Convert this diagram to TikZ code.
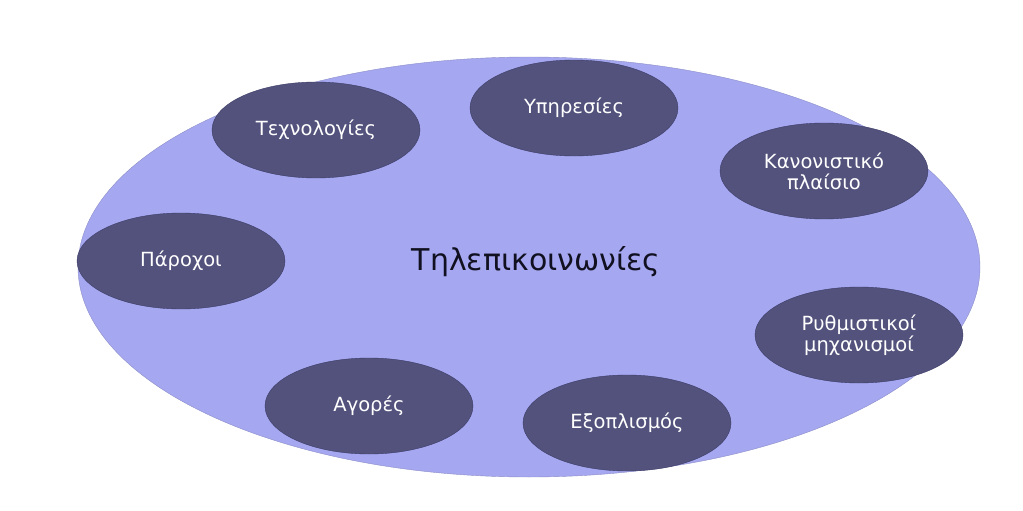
\documentclass[tikz,border=0pt]{standalone}
\usepackage{fontspec}
\setmainfont{DejaVu Sans}
\usetikzlibrary{shapes.geometric}
\definecolor{outerfill}{RGB}{165,167,240}
\definecolor{outerline}{RGB}{140,142,200}
\definecolor{innerfill}{RGB}{82,82,124}
\definecolor{innerline}{RGB}{60,60,104}
\definecolor{maintext}{RGB}{16,16,32}
\begin{document}
\begin{tikzpicture}[x=1pt,y=-1pt]
  \useasboundingbox (0,0) rectangle (1023,511);
  \node (Tel) [ellipse,fill=outerfill,draw=outerline,minimum width=902pt,minimum height=420pt,inner sep=0pt] at (529,267) {};
  \node (TelText) [text=maintext,font=\fontsize{30}{36}\selectfont] at (536,262) {Τηλεπικοινωνίες};
  \begin{scope}[every node/.style={ellipse,fill=innerfill,draw=innerline,text=white,minimum width=208pt,minimum height=96pt,inner sep=0pt,align=center,font=\fontsize{19.5}{21}\selectfont}]
  \node (Tech) at (316,130) {Τεχνολογίες};
  \node (Serv) at (574,108) {Υπηρεσίες};
  \node (Kan)  at (824,171) {Κανονιστικό\\πλαίσιο};
  \node (Ryth) at (859,335) {Ρυθμιστικοί\\μηχανισμοί};
  \node (Par)  at (181,261) {Πάροχοι};
  \node (Agor) at (369,406) {Αγορές};
  \node (Exop) at (627,423) {Εξοπλισμός};
  \end{scope}
\end{tikzpicture}
\end{document}
